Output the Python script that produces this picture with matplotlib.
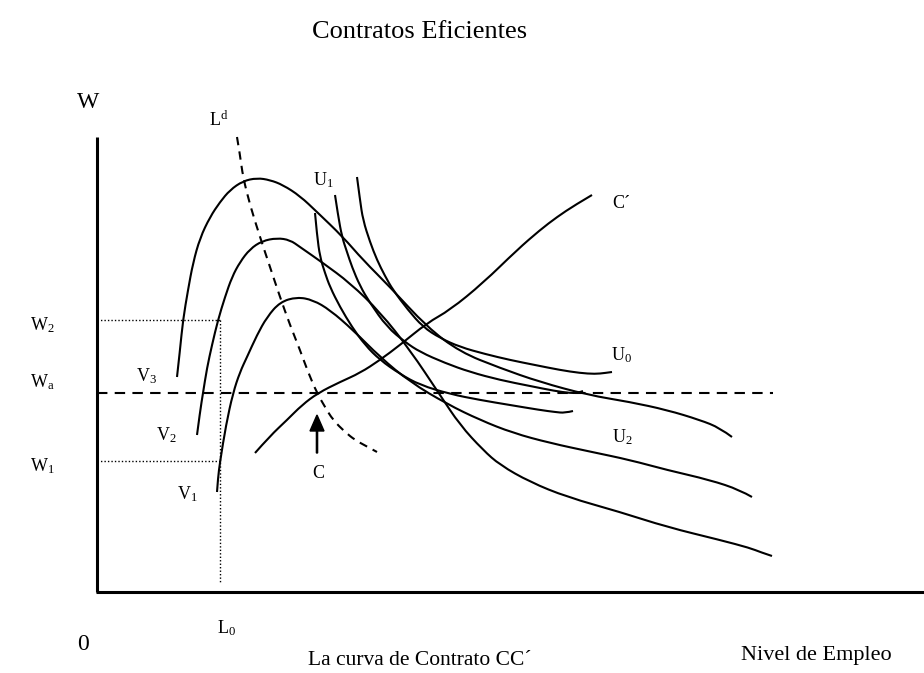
import matplotlib.pyplot as plt
from matplotlib.path import Path
from matplotlib.patches import FancyArrow, PathPatch, Rectangle

plt.rcParams['font.family'] = ['Liberation Serif', 'DejaVu Serif']
plt.rcParams['mathtext.fontset'] = 'custom'
plt.rcParams['mathtext.rm'] = 'Liberation Serif'
plt.rcParams['mathtext.it'] = 'Liberation Serif'

# schematic drawn in picture units (x right, y down)
# isoprofit curves V1..V3
v3_x = [177, 180, 183, 188, 193, 200, 210, 220, 230, 243, 257, 270, 283, 300, 317, 343, 363, 390,
        427, 460, 500, 540, 588, 630, 667, 700, 720, 732]
v3_y = [377, 350, 320, 290, 263, 238, 217, 202, 190, 181, 178, 180, 185, 196, 212, 237, 260, 287,
        327, 352, 368, 382, 395, 402, 410, 420, 428, 437]
v2_x = [197, 200, 203, 207, 212, 218, 225, 232, 240, 250, 262, 277, 290, 300, 323, 350, 380, 410,
        440, 460, 483, 500, 530, 567, 620, 667, 720, 750, 760, 772]
v2_y = [435, 412, 393, 368, 345, 320, 297, 277, 262, 249, 241, 238, 240, 247, 263, 283, 312, 350,
        395, 425, 450, 465, 482, 497, 512, 527, 540, 548, 552, 556]
v1_x = [217, 218, 220, 226, 233, 240, 247, 257, 267, 280, 297, 313, 330, 353, 380, 410, 447, 480,
        513, 550, 592, 630, 667, 710, 740, 752]
v1_y = [492, 478, 462, 425, 393, 372, 357, 335, 317, 302, 297, 300, 310, 330, 357, 382, 404, 420,
        433, 443, 452, 460, 470, 480, 490, 497]

# union indifference curves U0..U2
u0_x = [357, 360, 363, 370, 377, 385, 393, 408, 423, 440, 460, 485, 510, 535, 560, 580, 595, 605, 612]
u0_y = [177, 200, 220, 242, 260, 276, 290, 310, 327, 338, 347, 354, 360, 365, 370, 373, 374, 373, 372]
u1_x = [335, 338, 342, 347, 352, 360, 370, 387, 405, 420, 445, 470, 500, 530, 555, 570, 578, 583]
u1_y = [195, 215, 237, 252, 267, 286, 303, 327, 342, 352, 363, 372, 380, 386, 391, 393, 393, 391]
u2_x = [315, 317, 320, 325, 330, 340, 352, 365, 380, 400, 420, 450, 480, 510, 540, 555, 565, 573]
u2_y = [213, 235, 257, 273, 287, 307, 327, 345, 360, 374, 385, 394, 400, 405, 410, 412, 413, 411]

# labour demand and contract curve
ld_x = [237, 240, 243, 250, 260, 270, 280, 290, 300, 308, 317, 325, 333, 345, 355, 366, 377]
ld_y = [137, 155, 177, 205, 237, 267, 297, 325, 350, 372, 393, 407, 420, 432, 440, 446, 452]
cc_x = [255, 270, 287, 302, 318, 340, 360, 380, 400, 427, 450, 483, 517, 540, 557, 575, 592]
cc_y = [453, 436, 420, 405, 393, 382, 373, 360, 345, 323, 310, 283, 250, 230, 217, 205, 195]

# wage levels
w2, wa, w1 = 320, 393, 461
l0 = 220


def smooth_path(xs, ys):
    """ quadratic bezier through midpoints, read points act as control points """
    pts = list(zip(xs, ys))
    verts = [pts[0]]
    codes = [Path.MOVETO]
    for i in range(1, len(pts) - 1):
        mid = ((pts[i][0] + pts[i + 1][0]) / 2, (pts[i][1] + pts[i + 1][1]) / 2)
        if i == len(pts) - 2:
            mid = pts[-1]
        verts += [pts[i], mid]
        codes += [Path.CURVE3, Path.CURVE3]
    return Path(verts, codes)


fig = plt.figure(figsize=(9.24, 6.73), dpi=100)
ax = fig.add_axes([0, 0, 1, 1])
ax.set_xlim(0, 924)
ax.set_ylim(673, 0)
ax.axis('off')

lw = 1.5
for xs, ys in [(v3_x, v3_y), (v2_x, v2_y), (v1_x, v1_y), (u0_x, u0_y), (u1_x, u1_y), (u2_x, u2_y), (cc_x, cc_y)]:
    ax.add_patch(PathPatch(smooth_path(xs, ys), fill=False, edgecolor='black', lw=lw, capstyle='butt'))
ax.add_patch(PathPatch(smooth_path(ld_x, ld_y), fill=False, edgecolor='black', lw=lw,
                       linestyle=(0, (4, 3))))
ax.plot([97, 773], [wa, wa], color='black', lw=lw, dashes=(5, 3.5))

# dotted guides
ax.plot([97, l0], [w2, w2], color='black', lw=1, ls=(0, (1, 1.5)))
ax.plot([97, l0], [w1, w1], color='black', lw=1, ls=(0, (1, 1.5)))
ax.plot([l0, l0], [w2, 583], color='black', lw=1, ls=(0, (1, 1.5)))

# axes
ax.plot([97, 97], [137, 592], color='black', lw=2.2, solid_capstyle='butt')
ax.plot([96, 924], [592, 592], color='black', lw=2.2, solid_capstyle='butt')

# arrow to point C
ax.add_patch(FancyArrow(317, 453, 0, -38, width=1.2, head_width=14, head_length=16,
                        length_includes_head=True, color='black'))

fs = 13
ax.text(420, 38, 'Contratos Eficientes', fontsize=19, ha='center', va='baseline')
ax.text(88, 102, 'W', fontsize=17, ha='center', va='center')
ax.text(219, 120, r'L$^{\mathrm{d}}$', fontsize=fs, ha='center', va='center')
ax.text(323, 180, r'U$_1$', fontsize=fs, ha='center', va='center')
c_lab = ax.text(621, 203, 'C´', fontsize=fs, ha='center', va='center')
c_lab.set_clip_path(Rectangle((590, 198), 60, 30, transform=ax.transData))
ax.text(622, 355, r'U$_0$', fontsize=fs, ha='center', va='center')
ax.text(622, 437, r'U$_2$', fontsize=fs, ha='center', va='center')
ax.text(42, 325, r'W$_2$', fontsize=fs, ha='center', va='center')
ax.text(42, 382, r'W$_\mathrm{a}$', fontsize=fs, ha='center', va='center')
ax.text(42, 466, r'W$_1$', fontsize=fs, ha='center', va='center')
ax.text(147, 376, r'V$_3$', fontsize=fs, ha='center', va='center')
ax.text(166, 435, r'V$_2$', fontsize=fs, ha='center', va='center')
ax.text(187, 494, r'V$_1$', fontsize=fs, ha='center', va='center')
ax.text(318, 474, 'C', fontsize=fs, ha='center', va='center')
ax.text(83, 645, '0', fontsize=17, ha='center', va='center')
ax.text(227, 628, r'L$_0$', fontsize=fs, ha='center', va='center')
ax.text(420, 665, 'La curva de Contrato CC´', fontsize=15.5, ha='center', va='baseline')
ax.text(816, 660, 'Nivel de Empleo', fontsize=16, ha='center', va='baseline')

fig.savefig('out.png', dpi=100)
